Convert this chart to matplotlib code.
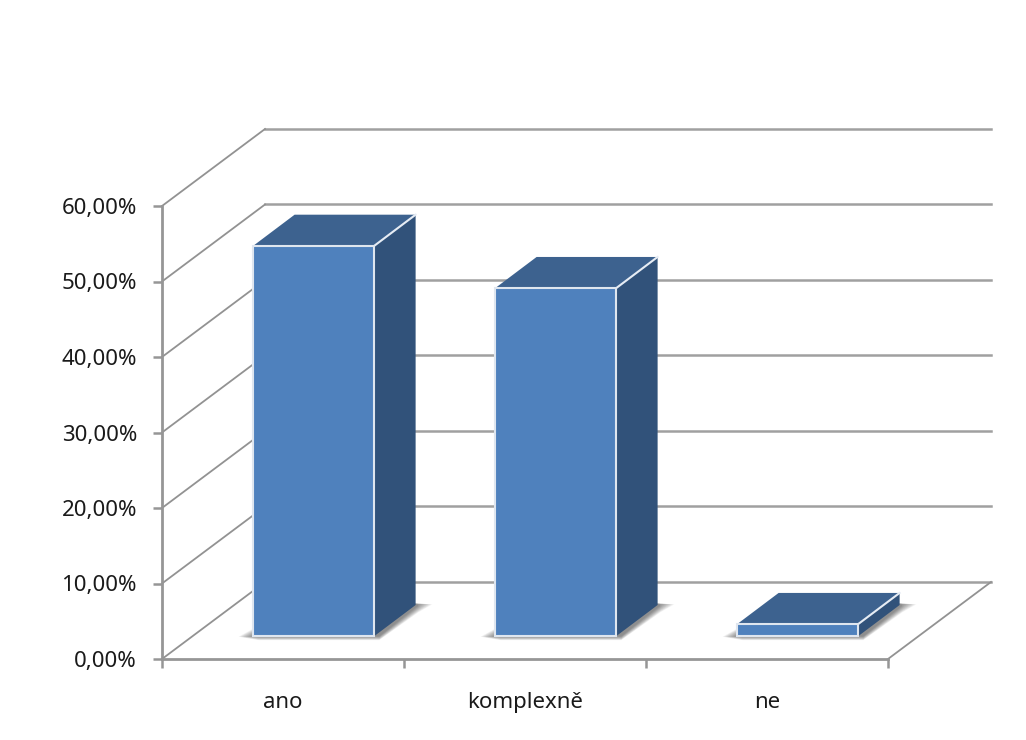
import matplotlib
matplotlib.use("Agg")
import matplotlib.pyplot as plt
from matplotlib.patches import Polygon

categories = ["ano", "komplexně", "ne"]
values = [51.7, 46.1, 1.6]
y_ticks = [0, 10, 20, 30, 40, 50, 60]
y_tick_labels = ["0,00%", "10,00%", "20,00%", "30,00%", "40,00%", "50,00%", "60,00%"]

FRONT_COLOR = "#4f81bd"
TOP_COLOR = "#3d628f"
SIDE_COLOR = "#31527a"
GRID_COLOR = "#a0a0a0"
AXIS_COLOR = "#969696"
DIAGONAL_COLOR = "#929292"
TEXT_COLOR = "#1a1a1a"

# floor depth of the fake 3D box, in data units (categories, percent)
DEPTH_X = 0.4256
DEPTH_Y = 10.2
BAR_WIDTH = 0.5
BAR_SHIFT = 0.128  # bars stand part way back on the floor
BAR_LIFT = 3.05
BAR_DEPTH_X = 0.17
BAR_DEPTH_Y = 4.1
SHADOW_LAYERS = 16

plt.rcParams["font.family"] = ["Noto Sans", "DejaVu Sans"]

figure = plt.figure(figsize=(10.26, 7.4), dpi=100)
axis = figure.add_axes([162 / 1026, 1 - 659 / 740, 726 / 1026, 453 / 740])
axis.set_xlim(0, len(categories))
axis.set_ylim(0, 60)

# back wall gridlines and the diagonals running down the side wall
for tick in y_ticks:
    axis.plot([DEPTH_X, 3 + DEPTH_X], [tick + DEPTH_Y, tick + DEPTH_Y],
              color=GRID_COLOR, lw=1.8, clip_on=False, zorder=1)
    axis.plot([0, DEPTH_X], [tick, tick + DEPTH_Y],
              color=DIAGONAL_COLOR, lw=1.3, clip_on=False, zorder=1)
# right edge of the floor
axis.plot([3, 3 + DEPTH_X], [0, DEPTH_Y], color=DIAGONAL_COLOR, lw=1.3,
          clip_on=False, zorder=1)

for index, value in enumerate(values):
    left = index + 0.5 - BAR_WIDTH / 2 + BAR_SHIFT
    right = left + BAR_WIDTH
    top = BAR_LIFT + value

    # soft shadow built up from stacked translucent floor shapes
    for layer in range(SHADOW_LAYERS):
        grow = 1 - layer / SHADOW_LAYERS
        shadow = Polygon(
            [
                (left - 0.062 * grow, BAR_LIFT - 0.1),
                (left + 0.02, BAR_LIFT - 0.55 * grow),
                (right + 0.02, BAR_LIFT - 0.55 * grow),
                (right + BAR_DEPTH_X + 0.01, BAR_LIFT + BAR_DEPTH_Y - 1.0 * grow),
                (right + BAR_DEPTH_X + 0.07 * grow, BAR_LIFT + BAR_DEPTH_Y + 0.1),
                (right + BAR_DEPTH_X, BAR_LIFT + BAR_DEPTH_Y + 0.2),
                (left + BAR_DEPTH_X, BAR_LIFT + BAR_DEPTH_Y),
                (left, BAR_LIFT + 1.0 * grow),
            ],
            closed=True, facecolor="#404040", edgecolor="none", alpha=0.05,
            clip_on=False, zorder=2,
        )
        axis.add_patch(shadow)

    side = Polygon(
        [
            (right, BAR_LIFT),
            (right + BAR_DEPTH_X, BAR_LIFT + BAR_DEPTH_Y),
            (right + BAR_DEPTH_X, top + BAR_DEPTH_Y),
            (right, top),
        ],
        closed=True, facecolor=SIDE_COLOR, edgecolor="none", clip_on=False, zorder=3,
    )
    axis.add_patch(side)

    cap = Polygon(
        [
            (left, top),
            (right, top),
            (right + BAR_DEPTH_X, top + BAR_DEPTH_Y),
            (left + BAR_DEPTH_X, top + BAR_DEPTH_Y),
        ],
        closed=True, facecolor=TOP_COLOR, edgecolor="none", clip_on=False, zorder=3,
    )
    axis.add_patch(cap)

    axis.plot([right, right + BAR_DEPTH_X], [top, top + BAR_DEPTH_Y],
              color="#e6ecf4", lw=1.5, clip_on=False, zorder=4)

# front faces of the columns
axis.bar(
    [index + 0.5 + BAR_SHIFT for index in range(len(values))], values,
    width=BAR_WIDTH, bottom=BAR_LIFT, color=FRONT_COLOR,
    edgecolor="#dfe6ef", linewidth=1.5, zorder=5,
)

for name in ("top", "right"):
    axis.spines[name].set_visible(False)
for name in ("left", "bottom"):
    axis.spines[name].set_color(AXIS_COLOR)
    axis.spines[name].set_linewidth(2.0)
    axis.spines[name].set_zorder(6)

axis.set_yticks(y_ticks)
axis.set_yticklabels(y_tick_labels)
axis.tick_params(axis="y", length=6.5, width=1.8, color=AXIS_COLOR, pad=11.5,
                 labelsize=16, labelcolor=TEXT_COLOR)

# separators sit on the major ticks, names on the minor ones
axis.set_xticks(range(len(categories) + 1))
axis.set_xticklabels([])
axis.set_xticks([index + 0.5 for index in range(len(categories))], minor=True)
axis.set_xticklabels(categories, minor=True)
axis.tick_params(axis="x", which="major", length=6.5, width=1.8, color=AXIS_COLOR)
axis.tick_params(axis="x", which="minor", length=0, pad=24, labelsize=16,
                 labelcolor=TEXT_COLOR)

figure.savefig("out.png", dpi=100, facecolor="white")
